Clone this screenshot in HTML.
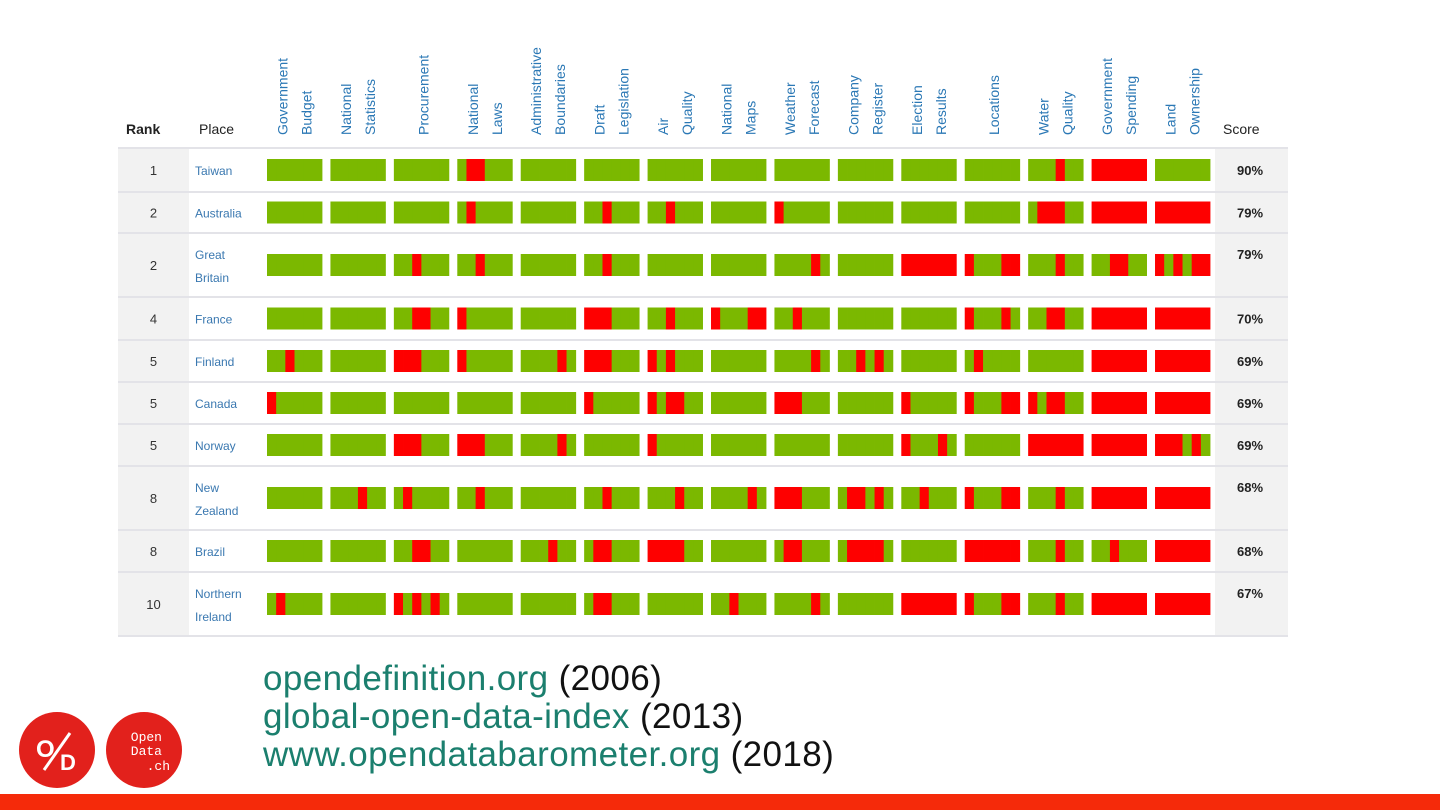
<!DOCTYPE html>
<html><head><meta charset="utf-8"><style>
body{margin:0;width:1440px;height:810px;background:#fff;overflow:hidden;position:relative;font-family:"Liberation Sans",sans-serif}
svg{position:absolute;left:0;top:0}
.foot{position:absolute;left:263px;font-size:35px;line-height:38px;color:#111;letter-spacing:0.4px}
.foot a{color:#1b7f6e;text-decoration:none}
</style></head><body>
<svg id="chart" width="1440" height="810" xmlns="http://www.w3.org/2000/svg"></svg>
<div class="foot" style="top:660px">
<div><a>opendefinition.org</a> (2006)</div>
<div><a>global-open-data-index</a> (2013)</div>
<div><a>www.opendatabarometer.org</a> (2018)</div>
</div>
<script>
const categories=[["Government","Budget"],["National","Statistics"],["Procurement"],["National","Laws"],["Administrative","Boundaries"],["Draft","Legislation"],["Air","Quality"],["National","Maps"],["Weather","Forecast"],["Company","Register"],["Election","Results"],["Locations"],["Water","Quality"],["Government","Spending"],["Land","Ownership"]];
const ranks=["1","2","2","4","5","5","5","8","8","10"];
const places=[["Taiwan"],["Australia"],["Great","Britain"],["France"],["Finland"],["Canada"],["Norway"],["New","Zealand"],["Brazil"],["Northern","Ireland"]];
const scores=["90%","79%","79%","70%","69%","69%","69%","68%","68%","67%"];
const G="gggggg",R="rrrrrr";
const cells=[
[G,G,G,"grrggg",G,G,G,G,G,G,G,G,"gggrgg",R,G],
[G,G,G,"grgggg",G,"ggrggg","ggrggg",G,"rggggg",G,G,G,"grrrgg",R,R],
[G,G,"ggrggg","ggrggg",G,"ggrggg",G,G,"ggggrg",G,R,"rgggrr","gggrgg","ggrrgg","rgrgrr"],
[G,G,"ggrrgg","rggggg",G,"rrrggg","ggrggg","rgggrr","ggrggg",G,G,"rgggrg","ggrrgg",R,R],
["ggrggg",G,"rrrggg","rggggg","ggggrg","rrrggg","rgrggg",G,"ggggrg","ggrgrg",G,"grgggg",G,R,R],
["rggggg",G,G,G,G,"rggggg","rgrrgg",G,"rrrggg",G,"rggggg","rgggrr","rgrrgg",R,R],
[G,G,"rrrggg","rrrggg","ggggrg",G,"rggggg",G,G,G,"rgggrg",G,R,R,"rrrgrg"],
[G,"gggrgg","grgggg","ggrggg",G,"ggrggg","gggrgg","ggggrg","rrrggg","grrgrg","ggrggg","rgggrr","gggrgg",R,R],
[G,G,"ggrrgg",G,"gggrgg","grrggg","rrrrgg",G,"grrggg","grrrrg",G,R,"gggrgg","ggrggg",R],
["grgggg",G,"rgrgrg",G,G,"grrggg",G,"ggrggg","ggggrg",G,R,"rgggrr","gggrgg",R,R]];
const rowTops=[148,192,233,297,340,382,424,466,530,572,636];
const svg=document.getElementById('chart');
const NS="http://www.w3.org/2000/svg";
function el(t,a,p){const e=document.createElementNS(NS,t);for(const k in a)e.setAttribute(k,a[k]);(p||svg).appendChild(e);return e;}
const colX=i=>267+i*63.43, BW=55, unit=BW/6;
let r=el('rect',{x:118,y:148,width:71,height:488,fill:'#f2f2f2'});


r=el('rect',{x:1215,y:148,width:73,height:488,fill:'#f2f2f2'});


rowTops.forEach((y,i)=>{const l=el('rect',{x:118,y:y-1,width:1170,height:2,fill:'#e3e3e8'});

});
function txt(x,y,s,attrs,name){const t=el('text',Object.assign({x:x,y:y},attrs));t.textContent=s;

return t;}
txt(126,134,"Rank",{'font-size':14,fill:'#222','font-weight':'bold'},'rank-header');
txt(199,134,"Place",{'font-size':14,fill:'#222'},'place-header');
txt(1223,134,"Score",{'font-size':14,fill:'#222'},'score-header');
categories.forEach((c,i)=>{const cx=colX(i)+BW/2;
 const xs=c.length===2?[cx-7,cx+17]:[cx+7];
 c.forEach((w,j)=>{txt(xs[j],135,w,{'font-size':14,fill:'#2b78b5',transform:`rotate(-90 ${xs[j]} 135)`},'column-header');});
});
places.forEach((p,i)=>{const top=rowTops[i],bot=rowTops[i+1],mid=(top+bot)/2;
 txt(153.5,mid+5,ranks[i],{'font-size':13,fill:'#333','text-anchor':'middle'},'rank-value');
 if(p.length===1) txt(195,mid+5,p[0],{'font-size':12,fill:'#3a78b0'},'place-name');
 else {txt(195,top+26,p[0],{'font-size':12,fill:'#3a78b0'},'place-name');txt(195,top+49,p[1],{'font-size':12,fill:'#3a78b0'},'place-name');}
 const sy=p.length===1?mid+5:top+26;
 txt(1250,sy,scores[i],{'font-size':13,fill:'#222','text-anchor':'middle','font-weight':'bold'},'score-value');
 cells[i].forEach((s,j)=>{const x0=colX(j),y0=mid-11;
  for(let k=0;k<6;k++){const c=el('rect',{x:x0+k*unit,y:y0,width:unit+0.4,height:22,fill:s[k]==='r'?'#fe0000':'#7bb800'});
   
   }
 });
});
let g=el('g',{});


el('circle',{cx:57,cy:750,r:38,fill:'#e2211c'},g);
el('text',{x:36,y:757,'font-size':24,fill:'#fff','font-weight':'bold'},g).textContent="O";
el('line',{x1:70,y1:733,x2:44,y2:770,stroke:'#fff','stroke-width':3},g);
el('text',{x:60,y:770,'font-size':22,fill:'#fff','font-weight':'bold'},g).textContent="D";
g=el('g',{});


el('circle',{cx:144,cy:750,r:38,fill:'#e2211c'},g);
[["Open",741],["Data",755],[".ch",770]].forEach((a,i)=>{el('text',{x:i===2?170:162,y:a[1],'font-size':13,fill:'#fff','text-anchor':'end','font-family':'Liberation Mono, monospace'},g).textContent=a[0];});
r=el('rect',{x:0,y:794,width:1440,height:16,fill:'#f52a0a'});


</script>
</body></html>
